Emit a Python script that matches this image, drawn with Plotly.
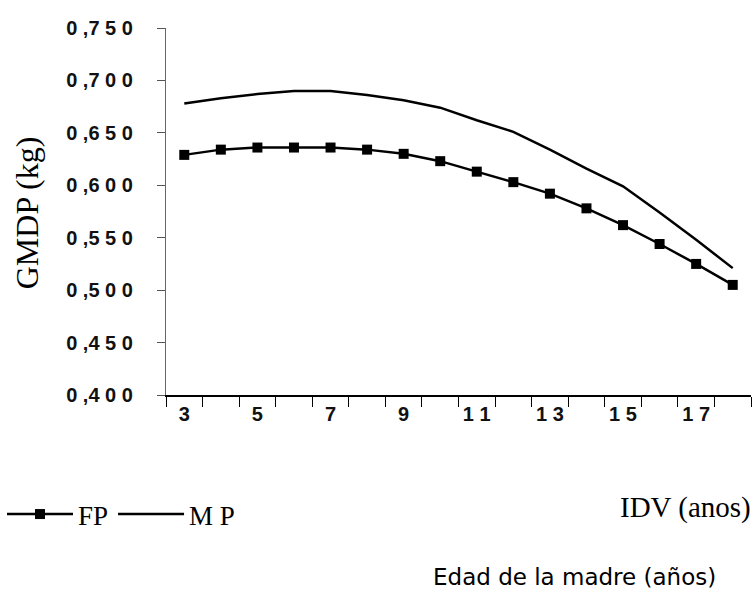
import plotly.graph_objects as go

# Data
edad = ["3", "4", "5", "6", "7", "8", "9", "10", "11", "12", "13", "14", "15", "16", "17", "18"]
fp = [0.629, 0.634, 0.636, 0.636, 0.636, 0.634, 0.630, 0.623, 0.613, 0.603, 0.592, 0.578, 0.562, 0.544, 0.525, 0.505]
mp = [0.678, 0.683, 0.687, 0.690, 0.690, 0.686, 0.681, 0.674, 0.662, 0.651, 0.634, 0.616, 0.599, 0.574, 0.548, 0.521]
x_ticktext = ["3", "", "5", "", "7", "", "9", "", "1 1", "", "1 3", "", "1 5", "", "1 7", ""]
y_tickvals = [0.40, 0.45, 0.50, 0.55, 0.60, 0.65, 0.70, 0.75]
y_ticktext = ["0 ,4 0 0", "0 ,4 5 0", "0 ,5 0 0", "0 ,5 5 0", "0 ,6 0 0", "0 ,6 5 0", "0 ,7 0 0", "0 ,7 5 0"]

W, H = 754, 592
L, R, T, B = 165, 3, 28, 197
pw, ph = W - L - R, H - T - B

def px_x(px):
    return (px - L) / pw

def px_y(py):
    return (H - B - py) / ph

fig = go.Figure()
fig.add_trace(go.Scatter(
    x=edad, y=fp, name="FP", mode="lines+markers",
    line=dict(color="black", width=2.5),
    marker=dict(symbol="square", size=10, color="black"),
))
fig.add_trace(go.Scatter(
    x=edad, y=mp, name="M P", mode="lines",
    line=dict(color="black", width=2.5),
))

tick_font = dict(family="Liberation Sans, Arial, sans-serif", size=20, color="#111", weight="bold")
serif = "Liberation Serif, Times New Roman, serif"

fig.update_layout(
    width=W, height=H,
    margin=dict(l=L, r=R, t=T, b=B, pad=0),
    plot_bgcolor="white", paper_bgcolor="white",
    showlegend=True,
    legend=dict(
        orientation="h", x=px_x(2), y=px_y(490), xanchor="left", yanchor="top",
        font=dict(family=serif, size=27, color="black"),
        itemwidth=66,
        tracegroupgap=0, bgcolor="rgba(0,0,0,0)",
    ),
    xaxis=dict(
        type="category", categoryorder="array", categoryarray=edad,
        tickmode="array", tickvals=edad, ticktext=x_ticktext, tickangle=0,
        tickson="boundaries", ticks="outside", ticklen=10, tickwidth=1, tickcolor="black",
        showline=True, linecolor="black", linewidth=1.5,
        showgrid=False, zeroline=False,
        tickfont=tick_font, range=[-0.5, 15.5],
    ),
    yaxis=dict(
        range=[0.40, 0.75], tickmode="array", tickvals=y_tickvals, ticktext=y_ticktext,
        ticks="outside", ticklen=8, tickwidth=1, tickcolor="#555",
        showline=True, linecolor="#666", linewidth=1.2,
        showgrid=False, zeroline=False,
        tickfont=tick_font, ticklabelstandoff=20,
    ),
    annotations=[
        dict(text="GMDP (kg)", x=px_x(26), y=px_y(213), xref="paper", yref="paper",
             textangle=-90, showarrow=False, xanchor="center", yanchor="middle",
             font=dict(family=serif, size=32, color="black")),
        dict(text="IDV (anos)", x=px_x(753), y=px_y(507), xref="paper", yref="paper",
             showarrow=False, xanchor="right", yanchor="middle",
             font=dict(family=serif, size=29, color="black")),
        dict(text="Edad de la madre (años)", x=px_x(574), y=px_y(577), xref="paper", yref="paper",
             showarrow=False, xanchor="center", yanchor="middle",
             font=dict(family="DejaVu Sans, sans-serif", size=23, color="black")),
    ],
)

fig.write_html("out.html", config={"displayModeBar": False},
               post_script="document.body.style.margin='0';")
